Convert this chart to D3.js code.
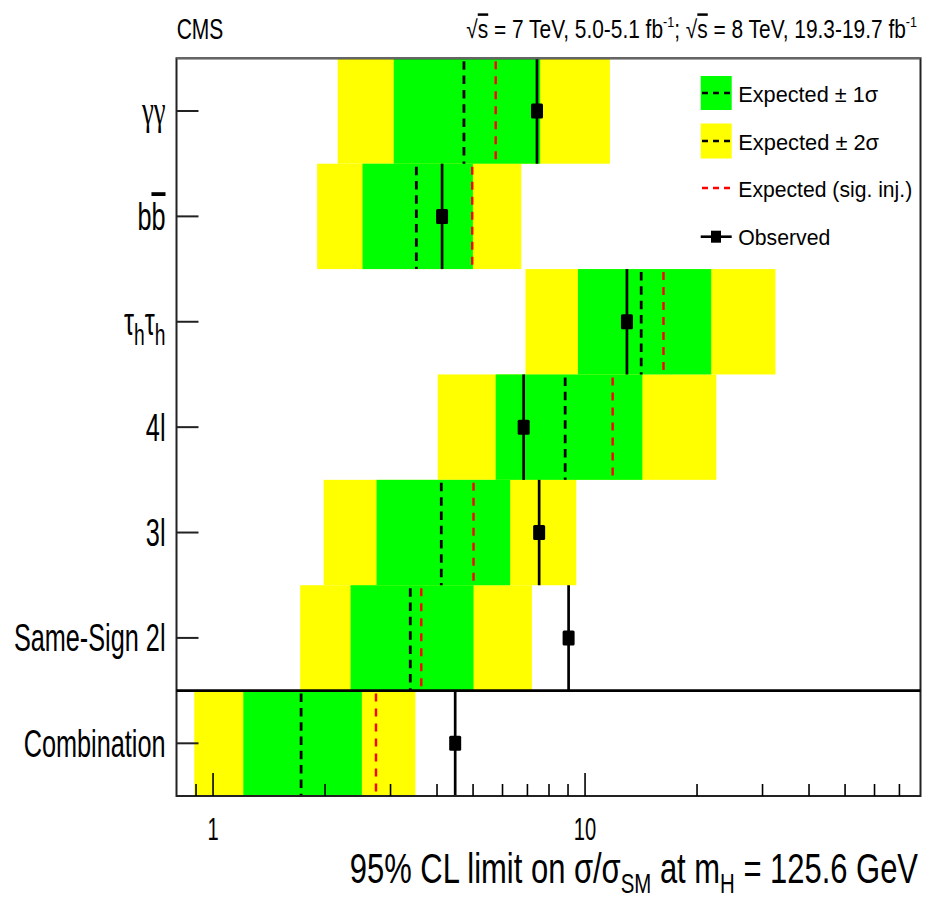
<!DOCTYPE html>
<html><head><meta charset="utf-8">
<script src="https://cdn.jsdelivr.net/npm/d3@7"></script>
<style>
body{margin:0;background:#fff;}
svg{display:block;}
text{font-family:"Liberation Sans",Arial,Helvetica,sans-serif;fill:#000;}
</style>
</head><body>
<svg id="c" width="925" height="899"></svg>
<script>
// ---------------- data ----------------
const channels = ["gg","bb","tautau","4l","3l","SS2l","Combination"];
const exp2Lo   = [2.17, 1.91,  6.94,  4.03, 1.99, 1.72, 0.893];
const exp1Lo   = [3.07, 2.53,  9.60,  5.77, 2.76, 2.35, 1.21];
const expMed   = [4.74, 3.53, 14.2,   8.87, 4.12, 3.40, 1.73];
const expInj   = [5.77, 4.99, 16.3,  11.9,  5.03, 3.64, 2.75];
const exp1Hi   = [7.60, 5.01, 21.9,  14.3,  6.31, 5.03, 2.52];
const exp2Hi   = [11.7, 6.76, 32.6,  22.6,  9.50, 7.22, 3.51];
const observed = [7.45, 4.14, 13.0,   6.86, 7.55, 9.06, 4.49];
const xTickMajor = [1, 10];
const xTickMinor = [0.9, 2, 3, 4, 5, 6, 7, 8, 9, 20, 30, 40, 50, 60, 70];
const legendLabels = ["Expected \u00b1 1\u03c3", "Expected \u00b1 2\u03c3", "Expected (sig. inj.)", "Observed"];
// label segments: t = text, sub = subscript, over = overline, greek = symbol font
const channelLabels = [
  [{t:"\u03b3\u03b3", greek:true}],
  [{t:"b"},{t:"b",over:true}],
  [{t:"\u03c4"},{t:"h",sub:true},{t:"\u03c4"},{t:"h",sub:true}],
  [{t:"4l"}],
  [{t:"3l"}],
  [{t:"Same-Sign 2l"}],
  [{t:"Combination"}]
];

// ---------------- layout ----------------
const L = 176.5, R = 920.5, T = 58.3, B = 796;
const svg = d3.select("#c");
const x = d3.scaleLog().domain([0.8, 80]).range([L, R]);
const y = d3.scaleBand().domain(channels).range([T, B]).padding(0);
const bw = y.bandwidth();
const rows = channels.map((c, i) => ({c, i}));

const plot = svg.append("g");
plot.selectAll("rect.y2").data(rows).join("rect")
  .attr("x", d => x(exp2Lo[d.i])).attr("width", d => x(exp2Hi[d.i]) - x(exp2Lo[d.i]))
  .attr("y", d => y(d.c)).attr("height", bw).attr("fill", "#ffff00");
plot.selectAll("rect.g1").data(rows).join("rect")
  .attr("x", d => x(exp1Lo[d.i])).attr("width", d => x(exp1Hi[d.i]) - x(exp1Lo[d.i]))
  .attr("y", d => y(d.c)).attr("height", bw).attr("fill", "#00ff00");
plot.selectAll("line.exp").data(rows).join("line")
  .attr("x1", d => x(expMed[d.i])).attr("x2", d => x(expMed[d.i]))
  .attr("y1", d => y(d.c) + 3).attr("y2", d => y(d.c) + bw)
  .attr("stroke", "#000").attr("stroke-width", 2.8).attr("stroke-dasharray", "8.5,5.8");
plot.selectAll("line.inj").data(rows).join("line")
  .attr("x1", d => x(expInj[d.i])).attr("x2", d => x(expInj[d.i]))
  .attr("y1", d => y(d.c) + 3).attr("y2", d => y(d.c) + bw)
  .attr("stroke", "#ff0000").attr("stroke-width", 2.4).attr("stroke-dasharray", "8,7");
plot.selectAll("line.obs").data(rows).join("line")
  .attr("x1", d => x(observed[d.i])).attr("x2", d => x(observed[d.i]))
  .attr("y1", d => y(d.c)).attr("y2", d => y(d.c) + bw)
  .attr("stroke", "#000").attr("stroke-width", 2.7);
plot.selectAll("rect.mk").data(rows).join("rect")
  .attr("x", d => x(observed[d.i]) - 6).attr("y", d => y(d.c) + bw / 2 - 7.5)
  .attr("width", 12).attr("height", 15).attr("rx", 1.5).attr("fill", "#000");

// frame
svg.append("rect").attr("x", L).attr("y", T).attr("width", R - L).attr("height", B - T)
  .attr("fill", "none").attr("stroke", "#222").attr("stroke-width", 2);
svg.append("line").attr("x1", L).attr("x2", R)
  .attr("y1", T).attr("y2", T).attr("stroke", "#666").attr("stroke-width", 2);
svg.append("line").attr("x1", L).attr("x2", R)
  .attr("y1", y("Combination")).attr("y2", y("Combination"))
  .attr("stroke", "#000").attr("stroke-width", 2.6);

// x axis ticks (inward)
const axMinor = d3.axisBottom(x).tickValues(xTickMinor).tickSizeInner(-12).tickSizeOuter(0).tickFormat("");
const gMin = svg.append("g").attr("transform", `translate(0,${B})`).call(axMinor);
const axMajor = d3.axisBottom(x).tickValues(xTickMajor).tickSizeInner(-23).tickSizeOuter(0).tickFormat(d3.format("d"));
const gMaj = svg.append("g").attr("transform", `translate(0,${B})`).call(axMajor);
[gMin, gMaj].forEach(g => {
  g.select(".domain").remove();
  g.selectAll(".tick line").attr("stroke", "#000").attr("stroke-width", 1.6);
});
gMaj.selectAll(".tick text")
  .attr("y", 0).attr("dy", null)
  .attr("font-size", 30.5)
  .attr("font-family", '"Liberation Sans",Arial,sans-serif')
  .attr("fill", "#000")
  .attr("transform", "translate(0,44) scale(0.66,1)");

// y axis ticks (inward)
const axY = d3.axisLeft(y).tickSizeInner(-22).tickSizeOuter(0).tickFormat("");
const gY = svg.append("g").attr("transform", `translate(${L},0)`).call(axY);
gY.select(".domain").remove();
gY.selectAll(".tick line").attr("stroke", "#222").attr("stroke-width", 2);

function placeText(parent, px, py, anchor, fs, build, opt) {
  const g = parent.append("g").attr("transform", `translate(${px},${py})`);
  const t = g.append("text").attr("text-anchor", anchor).attr("font-size", fs);
  build(t);
  let sx = opt.sx || 1;
  if (opt.width) sx = opt.width / t.node().getBBox().width;
  g.attr("transform", `translate(${px},${py}) scale(${sx},1)`);
  return g;
}

// channel labels
rows.forEach(d => {
  const cy = y(d.c) + bw / 2;
  placeText(svg, 165.5, cy + 13.5, "end", 38, t => {
    channelLabels[d.i].forEach((s, k) => {
      const sp = t.append("tspan").text(s.t);
      if (s.sub) sp.attr("font-size", 29).attr("dy", 10);
      else if (k > 0 && channelLabels[d.i][k - 1].sub) sp.attr("dy", -10);
      if (s.over) sp.style("text-decoration", "overline");
      if (s.greek) sp.attr("font-family", '"Liberation Serif","DejaVu Serif",serif').attr("font-size", 40);
    });
  }, {sx: 0.665});
});

// header
placeText(svg, 176.7, 39.3, "start", 30, t => t.text("CMS"), {width: 46.7});
placeText(svg, 917, 38.3, "end", 25, t => {
  t.append("tspan").text("\u221a");
  t.append("tspan").text("s").style("text-decoration", "overline");
  t.append("tspan").text(" = 7 TeV, 5.0-5.1 fb");
  t.append("tspan").text("-1").attr("font-size", 15).attr("dy", -11);
  t.append("tspan").text("; ").attr("dy", 11);
  t.append("tspan").text("\u221a");
  t.append("tspan").text("s").style("text-decoration", "overline");
  t.append("tspan").text(" = 8 TeV, 19.3-19.7 fb");
  t.append("tspan").text("-1").attr("font-size", 15).attr("dy", -11);
}, {width: 451});

// x title
placeText(svg, 918, 883, "end", 42.5, t => {
  t.append("tspan").text("95% CL limit on \u03c3/\u03c3");
  t.append("tspan").text("SM").attr("font-size", 28).attr("dy", 10);
  t.append("tspan").text(" at m").attr("dy", -10);
  t.append("tspan").text("H").attr("font-size", 28).attr("dy", 10);
  t.append("tspan").text(" = 125.6 GeV").attr("dy", -10);
}, {width: 569});

// legend
const lg = svg.append("g");
const legY = [93, 141, 188, 236.7];
const legW = [140, 141, 174, 92];
lg.append("rect").attr("x", 700.7).attr("y", legY[0] - 17).attr("width", 31).attr("height", 34).attr("fill", "#00ff00");
lg.append("rect").attr("x", 700.7).attr("y", legY[1] - 17.5).attr("width", 31).attr("height", 35).attr("fill", "#ffff00");
[0, 1].forEach(k => lg.append("line").attr("x1", 702).attr("x2", 730).attr("y1", legY[k]).attr("y2", legY[k])
  .attr("stroke", "#000").attr("stroke-width", 2.6).attr("stroke-dasharray", "6,5"));
lg.append("line").attr("x1", 702).attr("x2", 730).attr("y1", legY[2]).attr("y2", legY[2])
  .attr("stroke", "#ff0000").attr("stroke-width", 2.4).attr("stroke-dasharray", "6,5");
lg.append("line").attr("x1", 700.7).attr("x2", 731.7).attr("y1", legY[3]).attr("y2", legY[3])
  .attr("stroke", "#000").attr("stroke-width", 2.6);
lg.append("rect").attr("x", 711).attr("y", legY[3] - 6).attr("width", 10).attr("height", 12).attr("fill", "#000");
legendLabels.forEach((s, k) => {
  placeText(lg, 738.3, legY[k] + 8.5, "start", 22.5, t => t.text(s), {width: legW[k]});
});
</script>
</body></html>
